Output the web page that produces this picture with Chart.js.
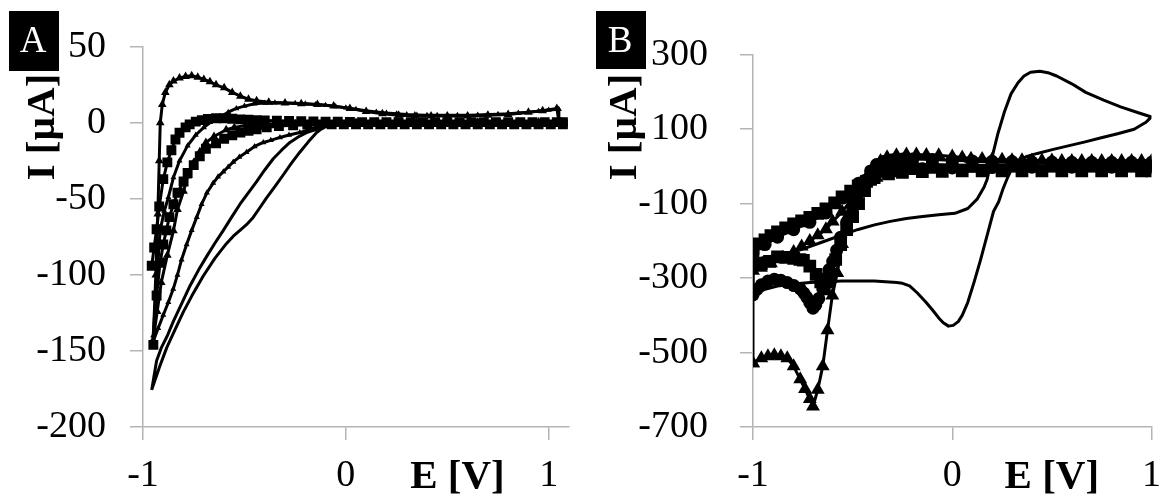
<!DOCTYPE html>
<html>
<head>
<meta charset="utf-8">
<script src="https://cdn.jsdelivr.net/npm/chart.js@4"></script>
<style>
  html, body { margin: 0; padding: 0; background: #fff; }
  #wrap { position: relative; width: 1174px; height: 502px; }
  canvas { position: absolute; top: 0; }
</style>
</head>
<body>
<div id="wrap">
  <canvas id="chartA" width="587" height="502" style="left:0"></canvas>
  <canvas id="chartB" width="587" height="502" style="left:587px"></canvas>
</div>
<script>
// ---- data (E in V, I in µA) ----

// panel A
const eTicksA = [-1, 0, 1];
const iTicksA = [-200, -150, -100, -50, 0, 50];

const aTriangles = [
  [-0.95,-145],[-0.937,-100],[-0.927,-60],[-0.92,-25],[-0.915,0],[-0.905,12],[-0.89,20],[-0.87,25],
  [-0.85,27.5],[-0.82,29.5],[-0.79,30.5],[-0.76,31],[-0.73,30],[-0.70,28.5],[-0.67,27],[-0.64,25],
  [-0.60,23],[-0.56,20],[-0.52,17.5],[-0.48,15.5],[-0.44,14.5],[-0.38,13.5],[-0.30,13],[-0.22,12.5],
  [-0.14,12],[-0.06,11],[0.02,9.5],[0.10,7.5],[0.18,6],[0.26,5],[0.34,4.5],[0.42,4.5],[0.50,4.5],
  [0.60,4.5],[0.70,5],[0.80,5.5],[0.90,7],[0.97,8],[1.04,9.5],
  [1.05,1],[0.95,0.5],[0.85,0.5],[0.75,0.5],[0.65,0.5],[0.55,0.5],[0.45,0.5],[0.35,0.5],[0.25,0.5],
  [0.15,0.5],[0.05,0.3],[-0.05,0],[-0.15,-0.3],[-0.25,-0.6],[-0.35,-0.8],[-0.42,-1],[-0.49,-1.5],
  [-0.55,-3],[-0.59,-4.5],[-0.65,-9],[-0.69,-13],[-0.72,-19],[-0.75,-26],[-0.78,-35],[-0.80,-45],
  [-0.83,-57],[-0.85,-71],[-0.88,-87],[-0.91,-105],[-0.93,-124],[-0.95,-143]
];

const aSquares = [
  [-0.957,-94],[-0.945,-82],[-0.933,-70],[-0.92,-55],[-0.90,-37],[-0.88,-26],[-0.86,-18],[-0.84,-11],
  [-0.82,-6.5],[-0.79,-3],[-0.77,-1],[-0.74,0.8],[-0.71,1.8],[-0.68,2.5],[-0.64,3],[-0.60,3],
  [-0.56,2.7],[-0.52,2.3],[-0.48,2],[-0.44,1.8],[-0.40,1.6],[-0.34,1.4],[-0.28,1.2],[-0.22,1],
  [-0.16,0.9],[-0.10,0.8],[-0.04,0.7],[0.02,0.6],[0.08,0.5],[0.14,0.5],[0.20,0.5],[0.26,0.5],
  [0.32,0.5],[0.38,0.5],[0.44,0.5],[0.50,0.5],[0.56,0.5],[0.62,0.5],[0.68,0.5],[0.74,0.5],
  [0.80,0.5],[0.86,0.5],[0.92,0.5],[0.98,0.5],[1.04,0.5],[1.07,0.5],
  [1.07,-1],[1.01,-1],[0.95,-1],[0.89,-1],[0.83,-1],[0.77,-1],[0.71,-1],[0.65,-1],[0.59,-1],
  [0.53,-1],[0.47,-1],[0.41,-1],[0.35,-1],[0.29,-1],[0.23,-1],[0.17,-1],[0.11,-1],[0.05,-1],
  [-0.01,-1],[-0.07,-1],[-0.13,-1],[-0.19,-1.1],[-0.26,-1.6],[-0.33,-2.1],[-0.39,-3],[-0.44,-4.3],
  [-0.48,-5.3],[-0.52,-6.4],[-0.56,-8.2],[-0.60,-10.5],[-0.64,-13.5],[-0.69,-17],[-0.72,-22],
  [-0.75,-27.8],[-0.78,-33],[-0.80,-38.6],[-0.83,-46],[-0.85,-53.5],[-0.87,-62],[-0.885,-70.7],
  [-0.90,-80],[-0.916,-92],[-0.933,-113.5],[-0.949,-146]
];

const aDots = [
  [-0.95,-140],[-0.935,-110],[-0.916,-71],[-0.895,-58],[-0.875,-49],[-0.85,-36],[-0.82,-25],
  [-0.78,-15],[-0.74,-8],[-0.70,-3],[-0.66,1],[-0.62,4],[-0.58,7],[-0.54,9.5],[-0.50,11],
  [-0.45,12.5],[-0.40,13],[-0.35,13.2],[-0.30,13],[-0.25,12.8],[-0.20,12.5],[-0.15,12],
  [-0.10,11.5],[-0.05,10.8],[0.00,10],[0.05,9],[0.10,8],[0.15,7.2],[0.20,6.5],[0.25,6],
  [0.30,5.5],[0.35,5.2],[0.40,5],[0.45,5],[0.50,5],[0.55,5],[0.60,5],[0.65,5.2],[0.70,5.5],
  [0.75,5.7],[0.80,6],[0.85,6.5],[0.90,7],[0.95,7.7],[1.00,8.5],[1.05,9],
  [1.05,0],[0.95,0],[0.85,0],[0.75,0],[0.65,0],[0.55,0],[0.45,0],[0.35,0],[0.25,0],
  [0.15,-0.3],[0.05,-0.7],[-0.05,-1.5],[-0.15,-3],[-0.227,-6.4],[-0.28,-8],[-0.325,-9.6],
  [-0.37,-11.5],[-0.407,-12.9],[-0.45,-15.5],[-0.49,-19.3],[-0.525,-22.5],[-0.555,-25.7],
  [-0.58,-29],[-0.604,-32.1],[-0.63,-35.5],[-0.654,-39.6],[-0.685,-46],[-0.711,-53.5],
  [-0.735,-62],[-0.76,-70.7],[-0.785,-80],[-0.81,-90],[-0.83,-100],[-0.851,-109.3],
  [-0.875,-118],[-0.90,-126.4],[-0.925,-135],[-0.949,-143.5]
];

const aPlain = [
  [-0.957,-175.6],[-0.945,-166],[-0.933,-156.4],[-0.91,-148],[-0.88,-140],[-0.851,-130.7],
  [-0.81,-119],[-0.768,-107.1],[-0.727,-97],[-0.686,-87.8],[-0.645,-79],[-0.604,-70.7],
  [-0.563,-62],[-0.522,-53.5],[-0.481,-46],[-0.44,-38.6],[-0.40,-31],[-0.358,-23.6],
  [-0.317,-18],[-0.276,-12.9],[-0.235,-9.3],[-0.194,-6.4],[-0.144,-4.3],[-0.08,-2],
  [0.0,-1],[0.2,-0.5],[0.5,-0.5],[0.8,0],[1.07,0],
  [1.07,-0.5],[0.8,-0.5],[0.5,-0.5],[0.2,-0.5],[0.0,-0.4],[-0.03,-0.4],[-0.06,-1],
  [-0.095,-2.1],[-0.12,-4],[-0.144,-6.4],[-0.185,-12.5],[-0.227,-19.3],[-0.268,-26.5],
  [-0.309,-34.3],[-0.35,-42],[-0.391,-49.3],[-0.425,-56],[-0.457,-62.2],[-0.49,-67],
  [-0.522,-70.7],[-0.555,-74.5],[-0.588,-79.3],[-0.645,-89],[-0.703,-100.7],[-0.752,-112],
  [-0.801,-124.3],[-0.842,-136],[-0.883,-147.8],[-0.92,-161],[-0.957,-175.6]
];

// panel B
const eTicksB = [-1, 0, 1];
const iTicksB = [-700, -500, -300, -100, 100, 300];

const bPlain = [
  [-1,-251.5],[-0.94,-244],[-0.877,-238.5],[-0.796,-229.8],[-0.715,-215],[-0.634,-199.5],
  [-0.553,-184],[-0.472,-169.2],[-0.39,-157],[-0.311,-147.6],[-0.23,-140],[-0.149,-134.6],
  [-0.068,-130],[0.013,-126],[0.078,-113],[0.126,-87],[0.16,-55],[0.175,-35],[0.2,25],
  [0.23,90],[0.262,147],[0.295,195],[0.33,225],[0.36,243],[0.393,253],[0.44,256],[0.48,252],
  [0.524,243],[0.6,222],[0.67,199],[0.76,178],[0.845,160],[0.93,145],[1.0,133],
  [0.97,118],[0.913,100],[0.83,88],[0.748,77],[0.667,66],[0.587,56],[0.507,46],[0.427,35],
  [0.37,26],[0.33,12],[0.30,-5],[0.28,-27],[0.255,-60],[0.233,-95],[0.207,-121],[0.175,-185],
  [0.142,-251],[0.11,-310],[0.078,-365],[0.05,-400],[0.03,-417],[0.005,-427],[-0.019,-429],
  [-0.045,-420],[-0.068,-407],[-0.1,-385],[-0.133,-364],[-0.175,-340],[-0.214,-321],
  [-0.25,-314],[-0.278,-312],[-0.392,-308],[-0.47,-308],[-0.553,-308],[-0.634,-310],
  [-0.715,-312],[-0.796,-316],[-0.877,-321],[-0.94,-330],[-0.974,-338],[-1.0,-347],[-1,-251.5]
];

const bTriangles = [
  [-1,-528.5],[-0.958,-515.5],[-0.925,-510],[-0.893,-507],[-0.86,-510],[-0.828,-515.5],
  [-0.796,-537],[-0.763,-572],[-0.739,-598],[-0.715,-625],[-0.699,-645],[-0.675,-600],
  [-0.650,-537],[-0.626,-440],[-0.602,-347],[-0.577,-286],[-0.553,-208],[-0.521,-130],
  [-0.472,-70],[-0.43,-30],[-0.392,0],[-0.36,15],[-0.327,25],[-0.28,30],[-0.23,32],[-0.18,32],
  [-0.13,31],[-0.068,30],[0,27],[0.05,24],[0.094,21],[0.15,20],[0.2,19],[0.25,18],[0.3,17],
  [0.35,17],[0.4,16],[0.45,16],[0.5,16],[0.55,15],[0.6,15],[0.65,15],[0.7,15],[0.75,15],
  [0.8,15],[0.85,15],[0.9,15],[0.95,15],[1.0,15],
  [1.0,-5],[0.9,-5],[0.8,-5],[0.7,-5],[0.6,-5],[0.5,-5],[0.4,-5],[0.3,-5],[0.2,-5],[0.1,-6],
  [0,-7],[-0.1,-9],[-0.2,-12],[-0.3,-18],[-0.38,-30],[-0.45,-55],[-0.5,-85],[-0.553,-122],
  [-0.6,-148],[-0.634,-169],[-0.675,-185],[-0.715,-200],[-0.756,-215],[-0.796,-230],
  [-0.85,-245],[-0.91,-260],[-0.96,-272],[-1.0,-280],[-1.0,-528.5]
];

const bSquares = [
  [-1,-250],[-0.958,-262],[-0.917,-255],[-0.877,-243],[-0.836,-244],[-0.796,-247],[-0.765,-250],
  [-0.747,-252],[-0.715,-268],[-0.683,-290],[-0.66,-310],[-0.642,-329],[-0.625,-310],
  [-0.61,-290],[-0.585,-250],[-0.56,-210],[-0.53,-170],[-0.5,-135],[-0.47,-100],[-0.44,-65],
  [-0.41,-35],[-0.38,-12],[-0.34,0],[-0.3,3],[-0.25,5],[-0.2,6],[-0.1,5],[0,4],[0.1,3],
  [0.2,3],[0.3,3],[0.4,2],[0.5,2],[0.6,2],[0.7,2],[0.8,2],[0.9,2],[1.0,2],
  [1.0,-12],[0.95,-12],[0.85,-12],[0.75,-12],[0.65,-12],[0.55,-12],[0.45,-12],[0.35,-12],
  [0.25,-12],[0.15,-12],[0.05,-12],[-0.05,-13],[-0.15,-14],[-0.25,-16],[-0.32,-20],
  [-0.392,-30],[-0.43,-40],[-0.472,-52],[-0.51,-66],[-0.553,-82],[-0.59,-98],[-0.634,-114],
  [-0.675,-126],[-0.715,-137],[-0.756,-146],[-0.796,-154],[-0.836,-165],[-0.877,-176],
  [-0.91,-186],[-0.94,-197],[-0.97,-208],[-1.0,-220]
];

const bCircles = [
  [-1,-345],[-0.98,-330],[-0.958,-318],[-0.925,-308],[-0.893,-303],[-0.86,-306],[-0.828,-312],
  [-0.795,-320],[-0.763,-329],[-0.745,-340],[-0.731,-351],[-0.715,-366],[-0.699,-381],
  [-0.685,-372],[-0.67,-355],[-0.650,-329],[-0.634,-300],[-0.618,-277],[-0.6,-255],
  [-0.58,-225],[-0.56,-190],[-0.53,-150],[-0.5,-110],[-0.47,-70],[-0.44,-38],[-0.41,-12],
  [-0.38,5],[-0.34,14],[-0.3,18],[-0.25,20],[-0.2,20],[-0.1,19],[0,17],[0.1,15],[0.2,14],
  [0.3,13],[0.4,12],[0.5,12],[0.6,11],[0.7,11],[0.8,11],[0.9,11],[1.0,11],
  [1.0,-2],[0.8,-2],[0.6,-2],[0.4,-2],[0.2,-3],[0,-4],[-0.15,-6],[-0.3,-12],[-0.4,-25],
  [-0.47,-45],[-0.55,-85],[-0.634,-125],[-0.715,-150],[-0.796,-170],[-0.877,-190],
  [-0.94,-210],[-1.0,-230]
];

// ---- drawing ----
const serif = '"Liberation Serif", "Times New Roman", serif';
const axisGray = '#b4b4b4';

// letters, axis titles
const panelText = {
  id: 'panelText',
  afterDraw(chart, args, o) {
    const ctx = chart.ctx;
    ctx.save();
    ctx.fillStyle = '#000';
    ctx.textAlign = 'center';
    ctx.textBaseline = 'middle';
    ctx.font = 'bold 41px ' + serif;
    ctx.fillText('E [V]', chart.scales.x.getPixelForValue(o.eAt), o.eY);
    ctx.save();
    ctx.translate(o.iX, o.iY);
    ctx.rotate(-Math.PI / 2);
    ctx.fillText('I [µA]', 0, 0);
    ctx.restore();
    ctx.fillRect(9, 11, 50, o.boxH);
    ctx.fillStyle = '#fff';
    ctx.textBaseline = 'alphabetic';
    ctx.font = '37px ' + serif;
    ctx.fillText(o.letter, 33, 52);
    ctx.restore();
  }
};

function series(points, style, radius) {
  return {
    data: points.map(p => ({ x: p[0], y: p[1] })),
    showLine: true,
    borderColor: '#000',
    backgroundColor: '#000',
    borderWidth: 3,
    borderJoinStyle: 'round',
    pointStyle: style || 'circle',
    pointRadius: style ? radius : 0,
    pointHoverRadius: 0,
    pointBorderWidth: 0,
    tension: 0,
  };
}

function createPanel(id, p) {
  return new Chart(document.getElementById(id), {
    type: 'scatter',
    data: { datasets: p.datasets },
    options: {
      responsive: false,
      animation: false,
      layout: { padding: { top: p.top, right: p.right, left: 0, bottom: 0 } },
      plugins: { legend: { display: false }, tooltip: { enabled: false }, panelText: p.text },
      scales: {
        x: {
          type: 'linear', min: p.xMin, max: p.xMax,
          afterBuildTicks: s => { s.ticks = p.xTicks.map(v => ({ value: v })); },
          afterFit: s => { s.height = 75; },
          ticks: { color: '#000', font: { family: serif, size: 38 }, padding: 13, maxRotation: 0, callback: v => String(v) },
          grid: { drawOnChartArea: false, tickLength: 13, color: axisGray, lineWidth: 1.5 },
          border: { color: axisGray, width: 1.5 },
        },
        y: {
          type: 'linear', min: p.yMin, max: p.yMax,
          afterBuildTicks: s => { s.ticks = p.yTicks.map(v => ({ value: v })); },
          afterFit: s => { s.width = p.left; },
          ticks: { color: '#000', font: { family: serif, size: 38 }, padding: p.yPad, callback: v => String(v) },
          grid: { drawOnChartArea: false, tickLength: 13, color: axisGray, lineWidth: 1.5 },
          border: { color: axisGray, width: 1.5 },
        },
      },
    },
    plugins: [panelText],
  });
}

createPanel('chartA', {
  datasets: [
    series(aPlain),
    series(aDots, 'triangle', 3.5),
    series(aSquares, 'rect', 7),
    series(aTriangles, 'triangle', 5),
  ],
  xMin: -1, xMax: 1.1, xTicks: eTicksA,
  yMin: -200, yMax: 50, yTicks: iTicksA,
  left: 143, top: 38, right: 18, yPad: 24,
  text: { letter: 'A', boxH: 60, eAt: 0.55, eY: 477, iX: 43, iY: 127 },
});

createPanel('chartB', {
  datasets: [
    series(bPlain),
    series(bCircles, 'circle', 6.5),
    series(bSquares, 'rect', 9),
    series(bTriangles, 'triangle', 8),
  ],
  xMin: -1, xMax: 1, xTicks: eTicksB,
  yMin: -700, yMax: 300, yTicks: iTicksB,
  left: 166, top: 42, right: 10, yPad: 32,
  text: { letter: 'B', boxH: 58, eAt: 0.5, eY: 477, iX: 38, iY: 127 },
});
</script>
</body>
</html>
